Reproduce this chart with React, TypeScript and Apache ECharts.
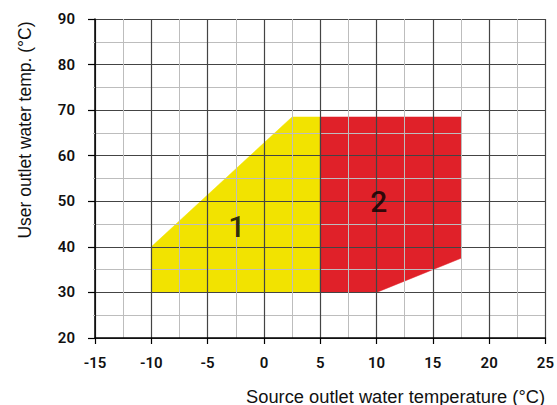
import React, { useEffect, useRef } from "react";
import * as echarts from "echarts";

const xTitle = "Source outlet water temperature (°C)";
const yTitle = "User outlet water temp. (°C)";
const xRange = [-15, 25];
const yRange = [20, 90];
const zone1: number[][] = [[-10, 30], [-10, 40], [2.5, 68.5], [5, 68.5], [5, 30]];
const zone2: number[][] = [[5, 30], [5, 68.5], [17.5, 68.5], [17.5, 37.5], [10, 30]];
const zoneLabels = [
  { text: "1", x: -2.4, y: 44.4 },
  { text: "2", x: 10.2, y: 49.9 },
];

const YELLOW = "#f2e300";
const RED = "#e02129";

export default function App() {
  const ref = useRef<HTMLDivElement>(null);
  useEffect(() => {
    if (!ref.current) return;
    const chart = echarts.init(ref.current, null, { renderer: "svg" });
    const polySeries = (pts: number[][], color: string) => ({
      type: "custom",
      z: -1,
      silent: true,
      data: [0],
      renderItem: (_p: any, api: any) => ({
        type: "polygon",
        shape: { points: pts.map((p) => api.coord(p)) },
        style: { fill: color, stroke: color, lineWidth: 0.5 },
      }),
    });
    chart.setOption({
      animation: false,
      grid: { left: 95, right: 9, top: 19, bottom: 67 },
      xAxis: {
        type: "value",
        min: xRange[0],
        max: xRange[1],
        interval: 5,
        z: 3,
        axisLine: { onZero: false, lineStyle: { color: "#000", width: 1.5 } },
        axisTick: { show: true, length: 6, lineStyle: { color: "#000", width: 1.2 } },
        axisLabel: { margin: 17, fontFamily: "Roboto", fontWeight: 600, fontSize: 15, color: "#111" },
        splitLine: { show: true, lineStyle: { color: "#444", width: 1.2 } },
        minorTick: { show: false, splitNumber: 2 },
        minorSplitLine: { show: true, lineStyle: { color: "#bdbdbd", width: 1 } },
      },
      yAxis: {
        type: "value",
        min: yRange[0],
        max: yRange[1],
        interval: 10,
        z: 3,
        axisLine: { show: true, onZero: false, lineStyle: { color: "#000", width: 1.5 } },
        axisTick: { show: true, length: 7, lineStyle: { color: "#000", width: 1.2 } },
        axisLabel: { margin: 20, fontFamily: "Roboto", fontWeight: 600, fontSize: 15, color: "#111" },
        splitLine: { show: true, lineStyle: { color: "#444", width: 1.2 } },
        minorTick: { show: true, splitNumber: 2, length: 2, lineStyle: { color: "#bdbdbd" } },
        minorSplitLine: { show: true, lineStyle: { color: "#bdbdbd", width: 1 } },
      },
      series: [
        polySeries(zone1, YELLOW),
        polySeries(zone2, RED),
        {
          type: "scatter",
          z: 5,
          symbolSize: 0,
          silent: true,
          data: zoneLabels.map((l) => ({ value: [l.x, l.y], name: l.text })),
          label: {
            show: true,
            position: "inside",
            formatter: (p: any) => p.name,
            fontFamily: "Roboto",
            fontWeight: 500,
            fontSize: 30,
            color: "#000",
          },
        },
      ],
      graphic: [
        {
          type: "text",
          x: 545,
          y: 396,
          style: {
            text: xTitle,
            fontFamily: "Liberation Sans",
            fontSize: 18.3,
            fill: "#111",
            textAlign: "right",
            textVerticalAlign: "middle",
          },
        },
        {
          type: "text",
          x: 25,
          y: 130,
          rotation: Math.PI / 2,
          style: {
            text: yTitle,
            fontFamily: "Liberation Sans",
            fontSize: 17.5,
            fill: "#111",
            textAlign: "center",
            textVerticalAlign: "middle",
          },
        },
      ],
    });
    return () => chart.dispose();
  }, []);
  return <div ref={ref} style={{ width: 557, height: 405, position: "absolute", left: 0, top: 0 }} />;
}
